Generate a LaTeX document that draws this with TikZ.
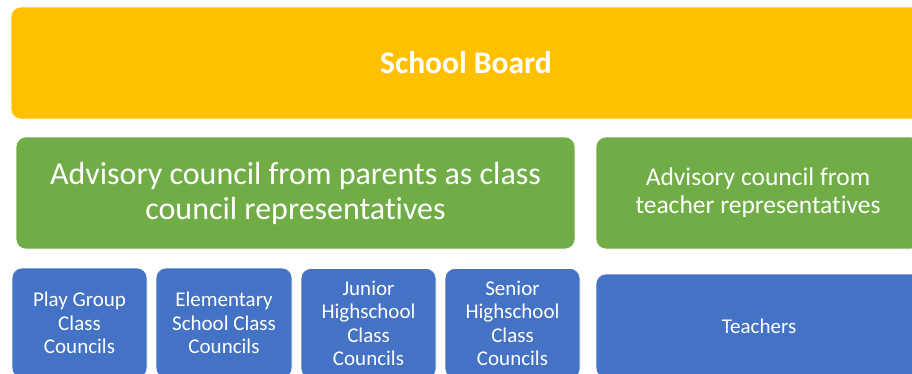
\documentclass[tikz,border=0pt]{standalone}
\usepackage{fontspec}
\setmainfont{Carlito}[Ligatures={NoCommon}]
\definecolor{cyel}{HTML}{FFC000}
\definecolor{cgrn}{HTML}{70AD47}
\definecolor{cblu}{HTML}{4472C4}
\begin{document}
\begin{tikzpicture}[x=1pt,y=-1pt,
  box/.style={rounded corners=10pt, inner sep=0pt, text=white, align=center, draw=white, line width=0.6pt},
  ybox/.style={box, fill=cyel},
  gbox/.style={box, fill=cgrn},
  bbox/.style={box, fill=cblu, font=\fontsize{21}{23.5}\selectfont}]
\useasboundingbox (0,0) rectangle (912,373);
\clip (0,0) rectangle (912,373);
\node[ybox, minimum width=910pt, minimum height=112pt, font=\fontsize{31.5}{36}\selectfont\bfseries] (board) at (466,63) {School Board};
\node[gbox, minimum width=559pt, minimum height=112pt, font=\fontsize{32}{35}\selectfont] (parents) at (295.5,193) {Advisory council from parents as class\\council representatives};
\node[gbox, minimum width=324pt, minimum height=112pt, font=\fontsize{25.5}{28}\selectfont] (teachadv) at (758,193) {Advisory council from\\teacher representatives};
\node[bbox, minimum width=135pt, minimum height=110pt] (play) at (79.5,323) {Play Group\\Class\\Councils};
\node[bbox, minimum width=136pt, minimum height=110pt] (elem) at (224,323) {Elementary\\School Class\\Councils};
\node[bbox, minimum width=135pt, minimum height=110pt] (junior) at (368.5,323.5) {Junior\\Highschool\\Class\\Councils};
\node[bbox, minimum width=135pt, minimum height=110pt] (senior) at (512.5,323.5) {Senior\\Highschool\\Class\\Councils};
\node[bbox, minimum width=326pt, minimum height=104pt] (teachers) at (759,326) {Teachers};
\end{tikzpicture}
\end{document}
